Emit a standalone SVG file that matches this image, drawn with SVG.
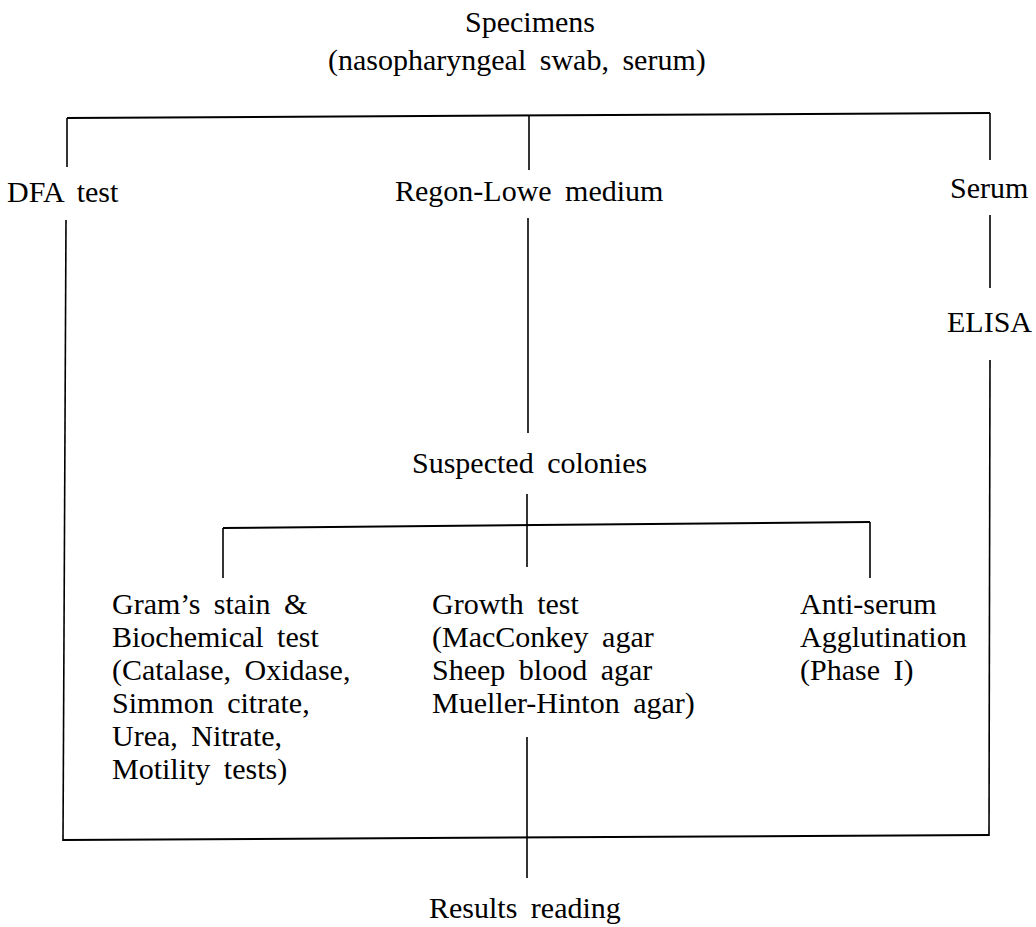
<svg xmlns="http://www.w3.org/2000/svg" width="1036" height="927" viewBox="0 0 1036 927">
<style>
text{font-family:"Liberation Serif","Times New Roman",serif;font-size:30px;fill:#000;word-spacing:6px}
.c line{stroke:#000;stroke-width:1.6;fill:none}
.c .h{stroke-width:2}
</style>
<rect width="1036" height="927" fill="#fff"/>
<g id="connectors" class="c">
<line class="h" x1="67" y1="118" x2="990" y2="113"/>
<line x1="67" y1="118" x2="67" y2="167"/>
<line x1="529" y1="115" x2="529" y2="170"/>
<line x1="990" y1="113" x2="990" y2="160"/>
<line x1="66" y1="220" x2="63" y2="841"/>
<line x1="528" y1="218" x2="528" y2="433"/>
<line x1="990" y1="215" x2="990" y2="288"/>
<line x1="990" y1="360" x2="989" y2="836"/>
<line x1="527" y1="494" x2="527" y2="567"/>
<line class="h" x1="223" y1="528" x2="870" y2="522"/>
<line x1="223" y1="528" x2="223" y2="578"/>
<line x1="870" y1="522" x2="870" y2="578"/>
<line x1="527" y1="737" x2="527" y2="878"/>
<line class="h" x1="63" y1="840" x2="989" y2="835"/>
</g>
<g id="specimens">
<text x="465" y="32">Specimens</text>
<text x="328" y="70">(nasopharyngeal swab, serum)</text>
</g>
<g id="dfa"><text x="7" y="202">DFA test</text></g>
<g id="regon"><text x="395" y="201">Regon-Lowe medium</text></g>
<g id="serum"><text x="950" y="198">Serum</text></g>
<g id="elisa"><text x="947" y="332">ELISA</text></g>
<g id="colonies"><text x="412" y="473">Suspected colonies</text></g>
<g id="gram">
<text x="112" y="614">Gram’s stain &amp;</text>
<text x="112" y="647">Biochemical test</text>
<text x="112" y="680">(Catalase, Oxidase,</text>
<text x="112" y="713">Simmon citrate,</text>
<text x="112" y="746">Urea, Nitrate,</text>
<text x="112" y="779">Motility tests)</text>
</g>
<g id="growth">
<text x="432" y="614">Growth test</text>
<text x="432" y="647">(MacConkey agar</text>
<text x="432" y="680">Sheep blood agar</text>
<text x="432" y="713">Mueller-Hinton agar)</text>
</g>
<g id="antiserum">
<text x="800" y="614">Anti-serum</text>
<text x="800" y="647">Agglutination</text>
<text x="800" y="680">(Phase I)</text>
</g>
<g id="results"><text x="429" y="918">Results reading</text></g>
</svg>
